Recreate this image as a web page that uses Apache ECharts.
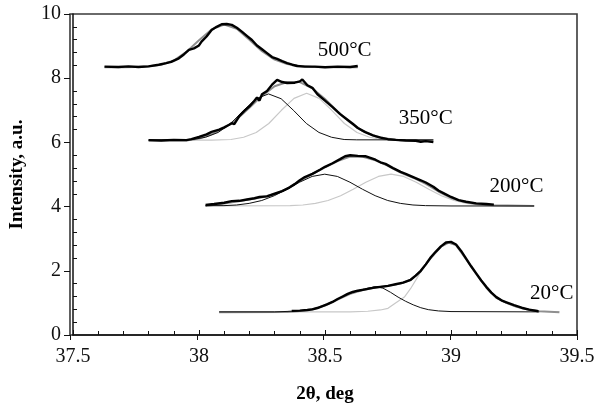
<!DOCTYPE html>
<html><head><meta charset="utf-8">
<script src="https://cdn.jsdelivr.net/npm/echarts@6/dist/echarts.min.js"></script>
<style>html,body{margin:0;padding:0;background:#fff}#c{width:598px;height:409px}</style>
</head><body><div id="c"></div>
<script>
// ---- tick labels / axis ranges ----
const xTicks = [37.5, 38, 38.5, 39, 39.5];
const yTicks = [0, 2, 4, 6, 8, 10];

// ---- temperature labels ----
const tempNames = ['500°C', '350°C', '200°C', '20°C'];
const tempLabelX = [38.578, 38.90, 39.26, 39.40];
const tempLabelY = [8.85, 6.75, 4.64, 1.28];

// ---- 500 °C ----
const data500 = [[37.625,8.36],[37.68,8.35],[37.72,8.37],[37.76,8.35],[37.80,8.37],[37.84,8.42],[37.87,8.47],[37.89,8.51],[37.92,8.62],[37.94,8.74],[37.96,8.88],[37.98,8.93],[38.00,9.02],[38.01,9.14],[38.03,9.30],[38.05,9.50],[38.07,9.60],[38.09,9.68],[38.11,9.69],[38.13,9.66],[38.15,9.57],[38.17,9.45],[38.19,9.32],[38.21,9.19],[38.23,9.02],[38.25,8.90],[38.27,8.78],[38.29,8.66],[38.31,8.60],[38.33,8.53],[38.35,8.47],[38.37,8.42],[38.39,8.38],[38.42,8.36],[38.46,8.36],[38.50,8.34],[38.55,8.36],[38.60,8.35],[38.63,8.38]];
const fit500 = [[37.625,8.34],[37.70,8.34],[37.75,8.35],[37.80,8.37],[37.85,8.42],[37.90,8.55],[37.95,8.82],[38.00,9.18],[38.05,9.52],[38.10,9.67],[38.15,9.54],[38.20,9.20],[38.25,8.84],[38.30,8.58],[38.35,8.44],[38.40,8.38],[38.45,8.35],[38.55,8.34],[38.63,8.34]];

// ---- 350 °C ----
const data350 = [[37.80,6.07],[37.85,6.06],[37.90,6.08],[37.95,6.07],[37.97,6.10],[38.00,6.17],[38.03,6.25],[38.05,6.33],[38.08,6.40],[38.10,6.47],[38.12,6.55],[38.13,6.60],[38.14,6.57],[38.16,6.82],[38.18,6.98],[38.20,7.12],[38.22,7.30],[38.23,7.40],[38.24,7.30],[38.25,7.50],[38.27,7.60],[38.29,7.80],[38.31,7.95],[38.33,7.88],[38.35,7.85],[38.38,7.86],[38.40,7.90],[38.41,7.96],[38.43,7.78],[38.45,7.70],[38.47,7.50],[38.50,7.30],[38.53,7.10],[38.56,6.88],[38.58,6.76],[38.61,6.58],[38.63,6.45],[38.66,6.32],[38.69,6.22],[38.72,6.15],[38.75,6.10],[38.78,6.08],[38.82,6.06],[38.86,6.05],[38.88,6.02],[38.90,6.04],[38.93,6.01]];
const fit350 = [[37.80,6.06],[37.95,6.06],[38.00,6.12],[38.05,6.25],[38.10,6.45],[38.15,6.72],[38.20,7.08],[38.25,7.45],[38.30,7.75],[38.35,7.88],[38.40,7.88],[38.45,7.68],[38.50,7.35],[38.55,6.96],[38.60,6.62],[38.65,6.35],[38.70,6.19],[38.75,6.11],[38.80,6.07],[38.93,6.06]];
const peakA350 = [[37.80,6.07],[37.93,6.08],[37.976,6.09],[38.026,6.16],[38.076,6.31],[38.126,6.59],[38.176,6.99],[38.226,7.36],[38.276,7.51],[38.326,7.36],[38.376,6.99],[38.426,6.59],[38.476,6.31],[38.526,6.16],[38.576,6.09],[38.626,6.08],[38.75,6.08],[38.93,6.08]];
const peakB350 = [[37.80,6.07],[38.05,6.07],[38.127,6.09],[38.177,6.16],[38.227,6.31],[38.277,6.59],[38.327,7.00],[38.377,7.37],[38.427,7.53],[38.477,7.37],[38.527,7.00],[38.577,6.59],[38.627,6.31],[38.677,6.16],[38.727,6.09],[38.777,6.075],[38.93,6.07]];

// ---- 200 °C ----
const data200 = [[38.026,4.05],[38.06,4.08],[38.10,4.12],[38.13,4.17],[38.16,4.18],[38.19,4.22],[38.22,4.26],[38.24,4.30],[38.27,4.32],[38.30,4.40],[38.33,4.48],[38.36,4.60],[38.38,4.70],[38.40,4.82],[38.42,4.92],[38.45,5.02],[38.48,5.15],[38.50,5.24],[38.53,5.35],[38.56,5.48],[38.58,5.57],[38.60,5.60],[38.63,5.58],[38.66,5.57],[38.68,5.52],[38.70,5.46],[38.72,5.38],[38.74,5.33],[38.77,5.20],[38.80,5.08],[38.82,5.02],[38.85,4.92],[38.88,4.82],[38.90,4.75],[38.93,4.62],[38.95,4.50],[38.97,4.42],[39.00,4.30],[39.03,4.20],[39.06,4.15],[39.10,4.10],[39.14,4.08],[39.17,4.06]];
const fit200 = [[38.026,4.02],[38.10,4.10],[38.15,4.16],[38.20,4.22],[38.25,4.29],[38.30,4.39],[38.35,4.55],[38.40,4.80],[38.45,5.02],[38.50,5.22],[38.55,5.42],[38.60,5.56],[38.65,5.55],[38.70,5.44],[38.75,5.27],[38.80,5.06],[38.85,4.90],[38.90,4.71],[38.95,4.47],[39.00,4.27],[39.05,4.15],[39.10,4.08],[39.17,4.04],[39.33,4.02]];
const peakA200 = [[38.026,4.03],[38.099,4.03],[38.149,4.05],[38.199,4.10],[38.249,4.19],[38.299,4.34],[38.349,4.54],[38.399,4.76],[38.449,4.94],[38.499,5.01],[38.549,4.94],[38.599,4.76],[38.649,4.54],[38.699,4.34],[38.749,4.19],[38.799,4.10],[38.849,4.05],[38.899,4.03],[39.00,4.02],[39.33,4.02]];
const peakB200 = [[38.026,4.02],[38.362,4.03],[38.412,4.05],[38.462,4.10],[38.512,4.19],[38.562,4.34],[38.612,4.54],[38.662,4.76],[38.712,4.94],[38.762,5.01],[38.812,4.94],[38.862,4.76],[38.912,4.54],[38.962,4.34],[39.012,4.19],[39.062,4.10],[39.112,4.05],[39.162,4.03],[39.33,4.02]];

// ---- 20 °C ----
const data20 = [[38.368,0.75],[38.40,0.76],[38.43,0.78],[38.45,0.80],[38.47,0.84],[38.49,0.90],[38.51,0.96],[38.53,1.03],[38.55,1.12],[38.57,1.20],[38.59,1.28],[38.61,1.34],[38.63,1.38],[38.66,1.42],[38.69,1.47],[38.72,1.50],[38.75,1.53],[38.78,1.58],[38.81,1.63],[38.84,1.72],[38.86,1.85],[38.88,2.00],[38.90,2.20],[38.92,2.42],[38.94,2.60],[38.96,2.76],[38.98,2.88],[39.00,2.90],[39.02,2.82],[39.04,2.62],[39.06,2.38],[39.08,2.14],[39.10,1.92],[39.12,1.70],[39.14,1.50],[39.16,1.32],[39.18,1.18],[39.20,1.08],[39.22,1.02],[39.25,0.93],[39.28,0.85],[39.31,0.79],[39.347,0.74]];
const fit20 = [[38.08,0.71],[38.35,0.72],[38.40,0.75],[38.45,0.80],[38.50,0.92],[38.55,1.10],[38.60,1.28],[38.65,1.40],[38.70,1.48],[38.75,1.53],[38.80,1.60],[38.84,1.72],[38.88,1.99],[38.92,2.40],[38.96,2.75],[38.99,2.88],[39.02,2.80],[39.06,2.36],[39.10,1.90],[39.14,1.48],[39.18,1.16],[39.22,1.00],[39.26,0.88],[39.30,0.80],[39.35,0.74],[39.43,0.71]];
const peakA20 = [[38.08,0.72],[38.30,0.72],[38.37,0.74],[38.43,0.78],[38.47,0.84],[38.51,0.96],[38.55,1.12],[38.59,1.27],[38.63,1.38],[38.67,1.46],[38.70,1.50],[38.73,1.46],[38.76,1.33],[38.79,1.18],[38.82,1.05],[38.85,0.94],[38.88,0.85],[38.91,0.79],[38.95,0.75],[39.00,0.73],[39.35,0.72]];
const peakB20 = [[38.08,0.72],[38.60,0.72],[38.67,0.74],[38.72,0.78],[38.75,0.83],[38.78,1.00],[38.815,1.18],[38.84,1.45],[38.868,1.81],[38.89,2.10],[38.92,2.43],[38.96,2.74],[38.99,2.87],[39.02,2.80],[39.04,2.60],[39.06,2.36],[39.08,2.12],[39.10,1.90],[39.12,1.68],[39.14,1.48],[39.16,1.30],[39.18,1.16],[39.20,1.06],[39.22,0.99],[39.25,0.90],[39.28,0.83],[39.31,0.78],[39.35,0.74],[39.43,0.72]];

const SERIF = '"Liberation Serif","Times New Roman",serif';
const chart = echarts.init(document.getElementById('c'), null, {renderer: 'canvas'});

function line(data, color, width, z) {
  return {type: 'line', data: data, showSymbol: false, symbol: 'none', smooth: false,
    lineStyle: {color: color, width: width}, z: z, silent: true, animation: false,
    xAxisIndex: 0, yAxisIndex: 0};
}
const series = [];
const groups = [[data500, fit500, null, null], [data350, fit350, peakA350, peakB350],
                [data200, fit200, peakA200, peakB200], [data20, fit20, peakA20, peakB20]];
groups.forEach(g => {
  if (g[3]) series.push(line(g[3], '#c8c8c8', 1.2, 2));
  series.push(line(g[1], '#8f8f8f', 2, 3));
  if (g[2]) series.push(line(g[2], '#111', 1, 4));
  series.push(line(g[0], '#000', 2.4, 5));
});
series.push({
  type: 'scatter', symbolSize: 0, silent: true, animation: false, z: 6,
  xAxisIndex: 0, yAxisIndex: 0,
  itemStyle: {opacity: 1},
  data: tempNames.map((n, i) => ({name: n, value: [tempLabelX[i], tempLabelY[i]]})),
  label: {show: true, position: 'inside', formatter: '{b}', color: '#000',
    fontFamily: SERIF, fontSize: 21}
});

const xMin = xTicks[0], xMax = xTicks[xTicks.length - 1], xInt = xTicks[1] - xTicks[0];
const yMin = yTicks[0], yMax = yTicks[yTicks.length - 1], yInt = yTicks[1] - yTicks[0];
const G = {left: 70, top: 14, right: 21, bottom: 74, containLabel: false};

chart.setOption({
  animation: false,
  backgroundColor: '#fff',
  grid: [
    Object.assign({}, G),
    Object.assign({}, G, {show: true, borderColor: '#3a3a3a', borderWidth: 1.6, backgroundColor: 'transparent'})
  ],
  xAxis: [
    {type: 'value', gridIndex: 0, min: xMin, max: xMax, interval: xInt, position: 'bottom',
     axisLine: {show: true, onZero: false, lineStyle: {color: '#111', width: 1.5}},
     axisTick: {show: true, inside: true, length: 5, lineStyle: {color: '#111', width: 1}},
     minorTick: {show: true, splitNumber: 5, length: 4, lineStyle: {color: '#111', width: 1}},
     splitLine: {show: false},
     axisLabel: {color: '#111', fontFamily: SERIF, fontSize: 20, margin: 12},
     name: '2θ, deg', nameLocation: 'middle', nameGap: 50,
     nameTextStyle: {color: '#000', fontFamily: SERIF, fontSize: 19, fontWeight: 'bold'}},
    {type: 'value', gridIndex: 1, min: xMin, max: xMax, interval: xInt, position: 'bottom',
     axisLine: {show: false, onZero: false},
     axisTick: {show: true, inside: false, length: 5, lineStyle: {color: '#111', width: 1}},
     axisLabel: {show: false}, splitLine: {show: false}}
  ],
  yAxis: [
    {type: 'value', gridIndex: 0, min: yMin, max: yMax, interval: yInt, position: 'left',
     axisLine: {show: true, onZero: false, lineStyle: {color: '#111', width: 1.5}},
     axisTick: {show: true, inside: true, length: 0, lineStyle: {color: '#111', width: 1}},
     minorTick: {show: true, splitNumber: 5, length: 4, lineStyle: {color: '#111', width: 1}},
     splitLine: {show: false},
     axisLabel: {color: '#111', fontFamily: SERIF, fontSize: 20, margin: 12},
     name: 'Intensity, a.u.', nameLocation: 'middle', nameGap: 46, nameRotate: 90,
     nameTextStyle: {color: '#000', fontFamily: SERIF, fontSize: 19, fontWeight: 'bold'}},
    {type: 'value', gridIndex: 1, min: yMin, max: yMax, interval: yInt, position: 'left',
     axisLine: {show: false, onZero: false},
     axisTick: {show: true, inside: false, length: 6, lineStyle: {color: '#111', width: 1}},
     axisLabel: {show: false}, splitLine: {show: false}}
  ],
  series: series
});
</script>
</body></html>
